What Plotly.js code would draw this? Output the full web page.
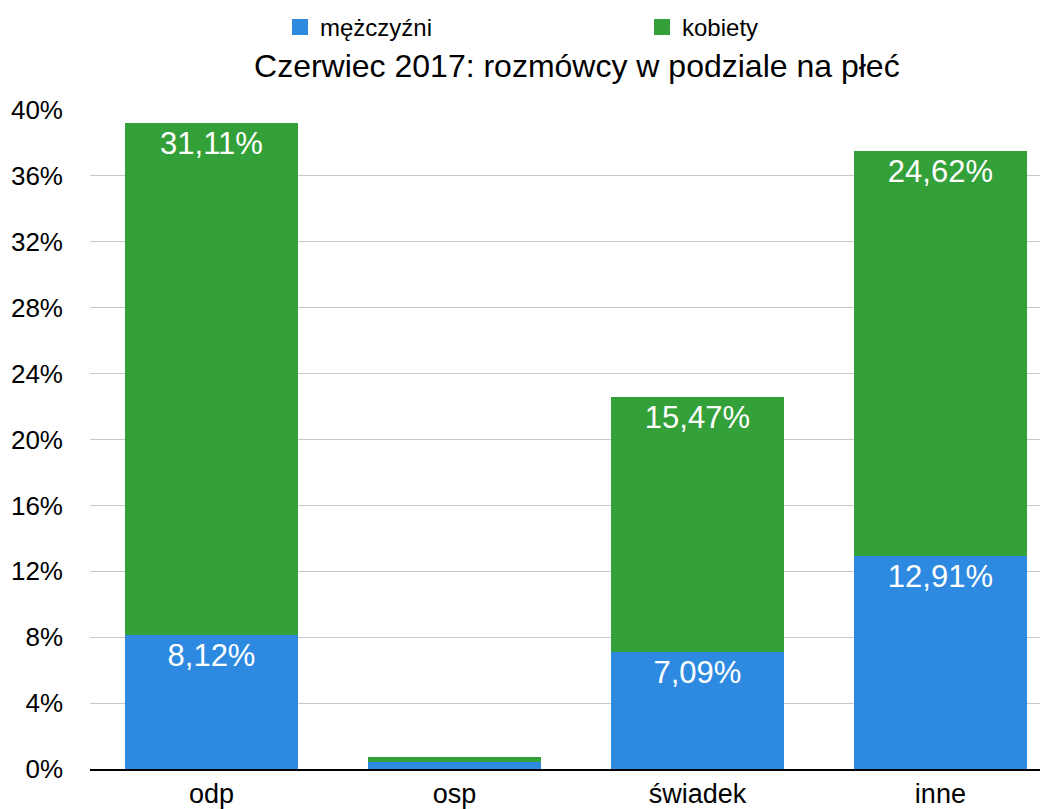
<!DOCTYPE html>
<html><head><meta charset="utf-8">
<script src="https://cdn.plot.ly/plotly-3.0.1.min.js"></script>
<style>html,body{margin:0;padding:0;background:#fff}#chart{width:1045px;height:809px}</style>
</head><body><div id="chart"></div>
<script>
const categories = ['odp', 'osp', 'świadek', 'inne'];
const seriesNames = ['mężczyźni', 'kobiety'];
const mezczyzni = [8.12, 0.42, 7.09, 12.91];
const kobiety = [31.11, 0.32, 15.47, 24.62];
const yTicks = [0, 4, 8, 12, 16, 20, 24, 28, 32, 36, 40];
const colors = ['#2e8ae0', '#33a03a'];

const font = 'Liberation Sans, Arial, Helvetica, sans-serif';
const series = [mezczyzni, kobiety];
const traces = [];
series.forEach((vals, i) => {
  traces.push({type:'bar', name:seriesNames[i], x:categories, y:vals, showlegend:false,
   marker:{color:colors[i]}, texttemplate:'%{y:.2f}%', textposition:'inside',
   insidetextanchor:'end', textfont:{color:'#fff', size:31, family:font}, hoverinfo:'skip'});
});
series.forEach((vals, i) => {
  traces.push({type:'scatter', mode:'markers', name:seriesNames[i], x:[null], y:[null],
   marker:{symbol:'square', size:20, color:colors[i]}, showlegend:true, hoverinfo:'skip'});
});
const layout = {
  width:1045, height:809, barmode:'stack', bargap:0.29,
  separators:', ',
  font:{family:font, color:'#000'},
  paper_bgcolor:'#fff', plot_bgcolor:'#fff',
  margin:{l:90, r:5, t:110, b:40},
  title:{text:'Czerwiec 2017: rozmówcy w podziale na płeć', font:{size:32, family:font, color:'#000'},
         x:0.552, xanchor:'center', y:0.919, yanchor:'middle'},
  showlegend:true,
  legend:{orientation:'h', x:0.2, xanchor:'left', y:0.994, yref:'container', yanchor:'top',
          entrywidth:317, font:{size:24, family:font}, traceorder:'normal', itemsizing:'trace'},
  uniformtext:{mode:'hide', minsize:18},
  xaxis:{range:[-0.5, 3.41], tickfont:{size:27, family:font}, showline:true, linecolor:'#000',
         linewidth:2, ticks:'', fixedrange:true},
  yaxis:{range:[0, 40], tickvals:yTicks, ticktext:yTicks.map(v=>v+'%'), tickfont:{size:26, family:font},
         gridcolor:'#c8c8c8', gridwidth:1, zeroline:false, showline:false, ticks:'',
         ticklabelstandoff:26}
};
Plotly.newPlot('chart', traces, layout, {displayModeBar:false, staticPlot:true});
</script></body></html>
